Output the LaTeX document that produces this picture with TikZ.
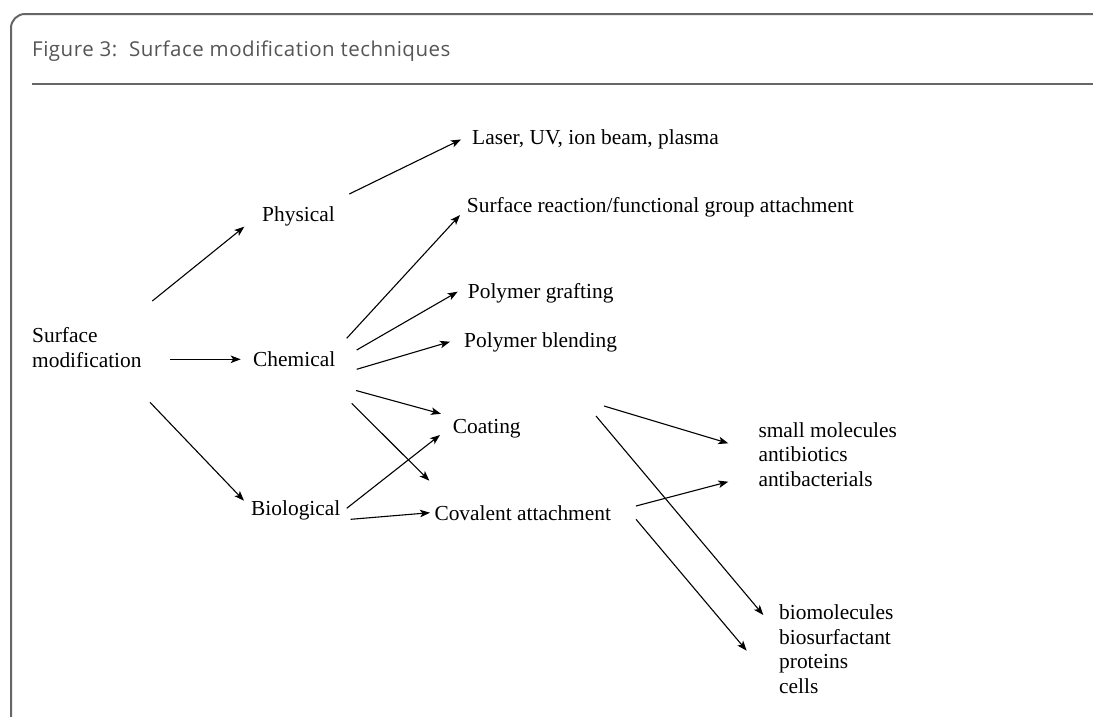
\documentclass[tikz,border=0pt]{standalone}
\usepackage{fontspec}
\setmainfont{Liberation Serif}
\newfontfamily\titlefont[LetterSpace=2.5]{Open Sans}
\usetikzlibrary{arrows.meta}
\definecolor{framegray}{HTML}{666666}
\definecolor{titlegray}{HTML}{555555}
\begin{document}
\begin{tikzpicture}[x=1pt,y=-1pt,
  lbl/.style={inner sep=0pt, anchor=base west, font=\fontsize{21.4}{24.7}\selectfont, align=left},
  arr/.style={-{Stealth[length=10pt,width=7.5pt,inset=2.5pt]}, line width=1.1pt, black}]
\useasboundingbox (0,0) rectangle (1093,716);
% frame
\draw[framegray, line width=2pt, rounded corners=14pt] (11,730) -- (11,14) -- (1100,14);
\draw[framegray, line width=1.5pt] (32,84) -- (1093,84);
\node[inner sep=0pt, anchor=base west, font=\titlefont\fontsize{20.5}{23}\selectfont, text=titlegray] (title) at (32,56) {Figure 3:\ \ Surface modification techniques};
% nodes
\node[lbl] (sm) at (32,367) {Surface\\modification};
\node[lbl] (phys) at (262,221) {Physical};
\node[lbl] (chem) at (253,366.5) {Chemical};
\node[lbl] (bio) at (251,515.5) {Biological};
\node[lbl] (laser) at (472,144.5) {Laser, UV, ion beam, plasma};
\node[lbl] (surf) at (466.7,212) {Surface reaction/functional group attachment};
\node[lbl] (graft) at (467.7,298.5) {Polymer grafting};
\node[lbl] (blend) at (464,347.5) {Polymer blending};
\node[lbl] (coat) at (452.7,433.5) {Coating};
\node[lbl] (cov) at (434.3,520.5) {Covalent attachment};
\node[lbl] (small) at (758.3,486.5) {small molecules\\antibiotics\\antibacterials};
\node[lbl] (biomol) at (779,693.5) {biomolecules\\biosurfactant\\proteins\\cells};
% connector ends
\coordinate (smA) at (152.3,301);   \coordinate (physA) at (244.3,226.7);
\coordinate (smB) at (170,359.3);   \coordinate (chemB) at (240.7,359.3);
\coordinate (smC) at (150,402.3);   \coordinate (bioC) at (244,500.7);
\coordinate (physD) at (349.3,194); \coordinate (laserD) at (461,139.5);
\coordinate (chemE) at (346.7,338.3); \coordinate (surfE) at (460,215);
\coordinate (chemF) at (356.7,350); \coordinate (graftF) at (457.7,291.7);
\coordinate (chemG) at (356.7,369.3); \coordinate (blendG) at (450,341.7);
\coordinate (chemH) at (356,390.5); \coordinate (coatH) at (441,413.8);
\coordinate (chemI) at (351.7,403.3); \coordinate (covI) at (429.3,480.7);
\coordinate (bioJ) at (346.7,508.3); \coordinate (coatJ) at (440,435);
\coordinate (bioK) at (350.7,519.3); \coordinate (covK) at (430,512.7);
\coordinate (coatL) at (604,406); \coordinate (smallL) at (728.3,443.3);
\coordinate (coatM) at (596,416); \coordinate (biomolM) at (763.3,615);
\coordinate (covN) at (636,506); \coordinate (smallN) at (728.3,481.7);
\coordinate (covO) at (636,519.3); \coordinate (biomolO) at (746.7,650.7);
% connectors
\draw[arr] (smA) -- (physA);
\draw[arr] (smB) -- (chemB);
\draw[arr] (smC) -- (bioC);
\draw[arr] (physD) -- (laserD);
\draw[arr] (chemE) -- (surfE);
\draw[arr] (chemF) -- (graftF);
\draw[arr] (chemG) -- (blendG);
\draw[arr] (chemH) -- (coatH);
\draw[arr] (chemI) -- (covI);
\draw[arr] (bioJ) -- (coatJ);
\draw[arr] (bioK) -- (covK);
\draw[arr] (coatL) -- (smallL);
\draw[arr] (coatM) -- (biomolM);
\draw[arr] (covN) -- (smallN);
\draw[arr] (covO) -- (biomolO);
\end{tikzpicture}
\end{document}
